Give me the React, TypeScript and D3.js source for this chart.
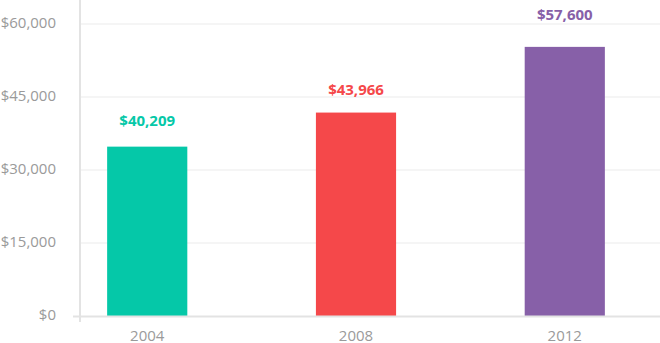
import React from "react";
import * as d3 from "d3";

const years = ["2004", "2008", "2012"];
const barValues = [34800, 41800, 55300];
const valueLabels = ["$40,209", "$43,966", "$57,600"];
const labelAt = [40100, 46400, 62000];
const colors = ["#05c8a8", "#f5484a", "#8760a8"];
const yTicks = [0, 15000, 30000, 45000, 60000];

const W = 660;
const H = 343;

export default function App() {
  const x = d3
    .scaleBand<string>()
    .domain(years)
    .range([80, 632])
    .paddingInner(0.616)
    .paddingOuter(0.13);
  const y = d3.scaleLinear().domain([0, 60000]).range([316, 24]);
  const fmt = (v: number) => "$" + d3.format(",")(v);
  const font = "'Open Sans', sans-serif";

  return (
    <svg
      width={W}
      height={H}
      style={{ position: "absolute", left: 0, top: 0, background: "#fff" }}
      fontFamily={font}
    >
      {yTicks.map((t) => (
        <g key={t}>
          {t > 0 && (
            <line x1={80} x2={W} y1={y(t)} y2={y(t)} stroke="#ebebeb" strokeWidth={1} />
          )}
          <text
            x={56}
            y={y(t) - 1}
            dy="0.35em"
            textAnchor="end"
            fontSize={15}
            fill="#9a9a9a"
          >
            {fmt(t)}
          </text>
        </g>
      ))}
      {years.map((yr, i) => (
        <g key={yr}>
          <rect
            x={x(yr)}
            y={y(barValues[i])}
            width={x.bandwidth()}
            height={y(0) - y(barValues[i])}
            fill={colors[i]}
          />
          <text
            x={(x(yr) as number) + x.bandwidth() / 2}
            y={y(labelAt[i])}
            dy="0.35em"
            textAnchor="middle"
            fontSize={15}
            fontWeight={700}
            fill={colors[i]}
          >
            {valueLabels[i]}
          </text>
          <text
            x={(x(yr) as number) + x.bandwidth() / 2}
            y={341}
            textAnchor="middle"
            fontSize={15}
            fill="#9a9a9a"
          >
            {yr}
          </text>
        </g>
      ))}
      <line x1={73} x2={W} y1={316.5} y2={316.5} stroke="#e3e3e3" strokeWidth={2} />
      <line x1={80} x2={80} y1={0} y2={322} stroke="#e3e3e3" strokeWidth={2} />
    </svg>
  );
}
